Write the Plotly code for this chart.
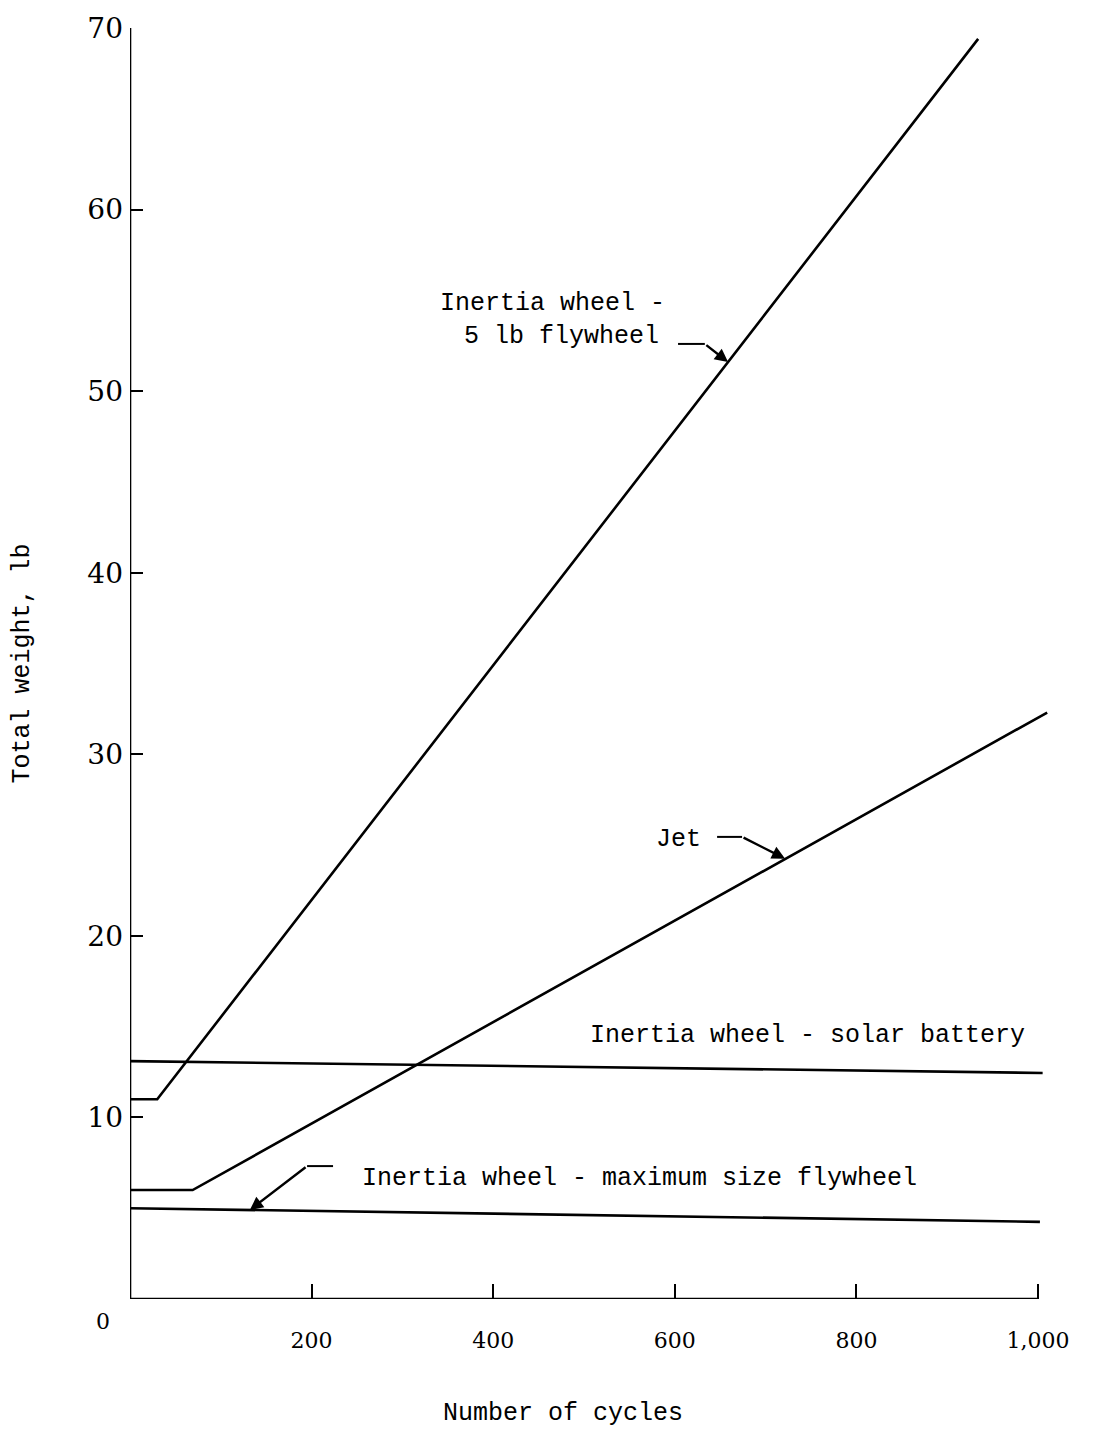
import plotly.graph_objects as go

# ---- data ----
cycles_flywheel5 = [0, 30, 934]
weight_flywheel5 = [11.0, 11.0, 69.4]

cycles_jet = [0, 69, 1010]
weight_jet = [6.0, 6.0, 32.3]

cycles_solar = [0, 1005]
weight_solar = [13.1, 12.45]

cycles_maxfly = [0, 1002]
weight_maxfly = [5.0, 4.25]

x_tickvals = [200, 400, 600, 800, 1000]
x_ticktext = ["200", "400", "600", "800", "1,000"]
y_tickvals = [10, 20, 30, 40, 50, 60, 70]
y_ticktext = ["10", "20", "30", "40", "50", "60", "70"]

FONT = "Liberation Mono, Courier New, monospace"
NUMFONT = "DejaVu Serif, serif"
LW = 2.6

fig = go.Figure()
for xs, ys, nm in [
    (cycles_flywheel5, weight_flywheel5, "Inertia wheel - 5 lb flywheel"),
    (cycles_jet, weight_jet, "Jet"),
    (cycles_solar, weight_solar, "Inertia wheel - solar battery"),
    (cycles_maxfly, weight_maxfly, "Inertia wheel - maximum size flywheel"),
]:
    fig.add_trace(go.Scatter(x=xs, y=ys, mode="lines", name=nm,
                             line=dict(color="black", width=LW), showlegend=False))

# axes drawn as shapes (x axis stops at 1,000)
fig.add_shape(type="line", x0=0, y0=0, x1=1000, y1=0, xref="x", yref="y",
              line=dict(color="black", width=2.6))
fig.add_shape(type="line", x0=0, y0=0, x1=0, y1=70, xref="x", yref="y",
              line=dict(color="black", width=2.6))

# leader tails (horizontal parts of the arrows)
tails = [
    ((603.5, 52.6), (633, 52.6), (658.6, 51.6)),
    ((646.5, 25.45), (674, 25.45), (721.4, 24.25)),
    ((223.6, 7.32), (195, 7.32), (132, 4.9)),
]
for (a, b, head) in tails:
    fig.add_shape(type="line", x0=a[0], y0=a[1], x1=b[0], y1=b[1], xref="x", yref="y",
                  line=dict(color="black", width=2))
    fig.add_annotation(x=head[0], y=head[1], ax=b[0], ay=b[1], axref="x", ayref="y",
                       xref="x", yref="y", text="", showarrow=True, arrowhead=2,
                       arrowsize=1.1, arrowwidth=2.4, arrowcolor="black")

labels = [
    ("Inertia wheel -", 339, 54.85),
    ("5 lb flywheel", 365.5, 53.0),
    ("Jet", 577, 25.3),
    ("Inertia wheel - solar battery", 504, 14.5),
    ("Inertia wheel - maximum size flywheel", 253, 6.66),
]
for t, x, y in labels:
    fig.add_annotation(x=x, y=y, xref="x", yref="y", text=t, showarrow=False,
                       xanchor="left", yanchor="middle",
                       font=dict(family=FONT, size=25, color="black"))

# "0" label at origin
fig.add_annotation(x=0, y=0, xref="x", yref="y", text="0", showarrow=False,
                   xshift=-27, yshift=-22, font=dict(family=NUMFONT, size=22, color="black"))

# axis titles
fig.add_annotation(x=-0.1175, y=0.5, xref="paper", yref="paper", text="Total weight, lb",
                   textangle=-90, showarrow=False, xanchor="center", yanchor="middle",
                   font=dict(family=FONT, size=25, color="black"))
fig.add_annotation(x=0.471, y=-0.0897, xref="paper", yref="paper", text="Number of cycles",
                   showarrow=False, xanchor="center", yanchor="middle",
                   font=dict(family=FONT, size=25, color="black"))

fig.update_xaxes(range=[0, 1012], showline=False, showgrid=False, zeroline=False,
                 automargin=False,
                 tickvals=x_tickvals, ticktext=x_ticktext, ticks="inside", ticklen=15,
                 tickwidth=2.4, tickcolor="black", ticklabelstandoff=26,
                 tickfont=dict(family=NUMFONT, size=22, color="black"))
fig.update_yaxes(range=[0, 70], showline=False, showgrid=False, zeroline=False,
                 automargin=False,
                 tickvals=y_tickvals, ticktext=y_ticktext, ticks="inside", ticklen=13,
                 tickwidth=2.4, tickcolor="black", ticklabelstandoff=6,
                 tickfont=dict(family=NUMFONT, size=28, color="black"))

fig.update_layout(width=1093, height=1429, plot_bgcolor="white", paper_bgcolor="white",
                  margin=dict(l=122, r=52, t=20, b=138), showlegend=False)

fig.write_html("out.html")
